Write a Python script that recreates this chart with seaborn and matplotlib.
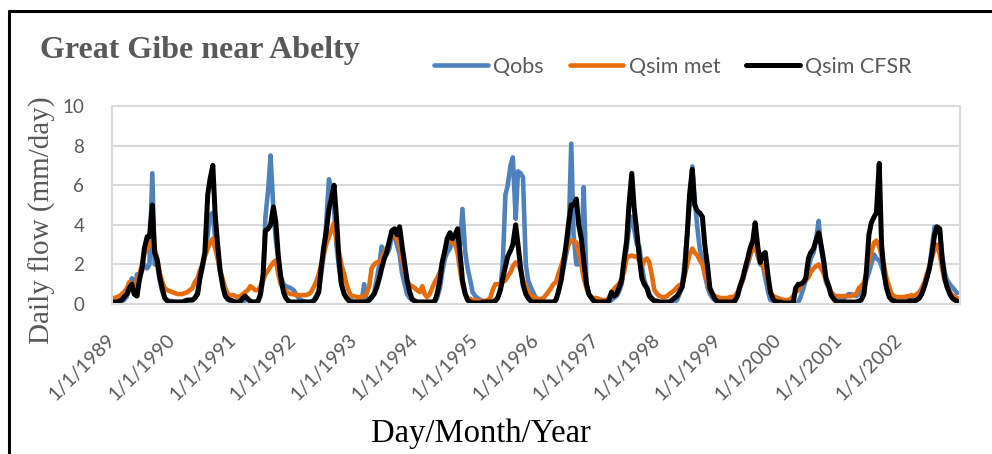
import numpy as np
import pandas as pd
import matplotlib
matplotlib.use("Agg")
import matplotlib.pyplot as plt
import matplotlib.dates as mdates
from matplotlib.lines import Line2D
import seaborn as sns
import datetime as dt

# ---------------- data (semi-monthly samples: 1st and 15th of each month) -------------
years = list(range(1989, 2003))
tick_labels = [f"1/1/{y}" for y in years]
series_names = ["Qobs", "Qsim met", "Qsim CFSR"]

qobs = [
    0.1, 0.1, 0.1, 0.15, 0.15, 0.2, 0.4, 0.7, 1.3, 0.5, 1.5, 1.4, 1.7, 2.0, 1.8, 2.0, 6.6, 2.0, 2.0, 1.2, 0.6, 0.3, 0.2, 0.15,
    0.15, 0.1, 0.1, 0.1, 0.1, 0.1, 0.15, 0.2, 0.2, 0.3, 0.6, 1.3, 1.8, 2.5, 3.5, 4.5, 4.6, 3.3, 2.3, 1.6, 1.0, 0.4, 0.2, 0.15,
    0.15, 0.1, 0.1, 0.1, 0.1, 0.2, 0.2, 0.1, 0.1, 0.1, 0.15, 0.4, 1.2, 4.4, 5.8, 7.5, 4.8, 3.3, 2.2, 1.4, 1.0, 0.9, 0.85, 0.8,
    0.7, 0.5, 0.3, 0.2, 0.15, 0.1, 0.1, 0.1, 0.2, 0.4, 0.7, 1.5, 2.5, 4.0, 6.3, 5.8, 4.8, 3.0, 1.8, 1.0, 0.5, 0.35, 0.25, 0.2,
    0.1, 0.1, 0.1, 0.15, 1.0, 0.2, 0.2, 0.3, 0.6, 1.2, 2.0, 2.9, 2.6, 2.5, 2.8, 3.5, 3.4, 3.0, 2.5, 1.6, 1.0, 0.5, 0.3, 0.2,
    0.15, 0.1, 0.1, 0.1, 0.1, 0.1, 0.1, 0.1, 0.1, 0.3, 0.8, 1.6, 2.3, 2.6, 2.8, 3.2, 3.0, 3.3, 3.0, 4.8, 2.6, 1.8, 1.2, 0.6,
    0.4, 0.3, 0.2, 0.15, 0.1, 0.1, 0.1, 0.15, 0.2, 0.3, 0.8, 2.0, 5.5, 6.0, 7.0, 7.4, 4.3, 6.7, 6.6, 6.4, 2.0, 1.2, 0.85, 0.6,
    0.3, 0.2, 0.15, 0.1, 0.1, 0.1, 0.1, 0.1, 0.2, 0.6, 1.2, 1.8, 2.5, 3.0, 8.1, 3.5, 2.0, 2.0, 2.5, 5.9, 1.0, 0.5, 0.3, 0.2,
    0.15, 0.1, 0.1, 0.1, 0.1, 0.1, 0.2, 0.3, 0.4, 0.6, 1.0, 2.0, 2.8, 3.8, 4.4, 3.8, 3.0, 2.9, 1.9, 1.2, 0.8, 0.5, 0.3, 0.2,
    0.1, 0.1, 0.1, 0.1, 0.1, 0.1, 0.1, 0.1, 0.2, 0.5, 1.0, 2.0, 3.5, 5.0, 6.95, 5.3, 3.8, 2.8, 2.2, 1.5, 0.85, 0.5, 0.3, 0.2,
    0.15, 0.1, 0.1, 0.1, 0.1, 0.1, 0.1, 0.2, 0.5, 0.8, 1.2, 1.6, 2.0, 2.4, 2.9, 3.2, 2.4, 2.0, 1.9, 1.3, 0.6, 0.2, 0.15, 0.1,
    0.1, 0.05, 0.0, 0.0, 0.0, 0.0, 0.0, 0.0, 0.1, 0.35, 0.8, 1.2, 1.8, 2.3, 2.6, 3.2, 4.2, 2.8, 2.0, 1.1, 0.8, 0.45, 0.3, 0.2,
    0.2, 0.2, 0.3, 0.4, 0.5, 0.5, 0.45, 0.4, 0.5, 0.6, 0.9, 1.2, 1.6, 2.0, 2.5, 2.3, 2.2, 1.9, 1.5, 0.9, 0.5, 0.35, 0.3, 0.25,
    0.2, 0.2, 0.2, 0.25, 0.3, 0.3, 0.2, 0.2, 0.3, 0.5, 0.9, 1.3, 1.9, 2.8, 3.9, 3.8, 3.7, 2.5, 1.6, 1.2, 1.0, 0.85, 0.7, 0.55,
]

qsim_met = [
    0.3, 0.3, 0.35, 0.4, 0.5, 0.6, 0.8, 1.1, 1.0, 0.8, 1.2, 1.5, 2.0, 2.5, 2.8, 3.0, 3.2, 2.8, 2.3, 1.6, 1.1, 0.8, 0.7, 0.65,
    0.6, 0.55, 0.5, 0.5, 0.5, 0.55, 0.6, 0.7, 0.8, 1.1, 1.3, 1.7, 2.0, 2.4, 2.8, 3.1, 3.3, 2.8, 2.3, 1.7, 1.2, 0.8, 0.5, 0.45,
    0.45, 0.4, 0.35, 0.4, 0.5, 0.6, 0.7, 0.9, 0.8, 0.7, 0.7, 0.9, 1.2, 1.5, 1.7, 1.9, 2.1, 2.2, 1.5, 1.0, 0.8, 0.65, 0.55, 0.5,
    0.5, 0.45, 0.45, 0.45, 0.45, 0.45, 0.5, 0.6, 0.85, 1.1, 1.5, 2.0, 2.5, 3.0, 3.4, 3.7, 4.1, 3.2, 2.6, 2.0, 1.5, 1.0, 0.6, 0.4,
    0.4, 0.35, 0.35, 0.35, 0.4, 0.5, 0.9, 1.8, 2.0, 2.1, 2.1, 2.3, 2.6, 2.8, 3.1, 3.6, 3.5, 3.3, 3.0, 2.3, 1.6, 1.2, 0.95, 0.9,
    0.8, 0.7, 0.6, 0.9, 0.5, 0.35, 0.5, 0.8, 1.1, 1.3, 1.6, 2.1, 2.6, 3.2, 3.4, 3.1, 3.0, 2.6, 1.7, 1.0, 0.5, 0.3, 0.25, 0.2,
    0.2, 0.15, 0.15, 0.15, 0.15, 0.2, 0.3, 0.7, 1.0, 1.0, 1.0, 1.1, 1.2, 1.4, 1.6, 1.9, 2.1, 2.0, 1.7, 1.2, 0.9, 0.6, 0.45, 0.35,
    0.3, 0.25, 0.25, 0.3, 0.45, 0.6, 0.8, 1.0, 1.1, 1.5, 1.9, 2.3, 2.7, 3.0, 3.2, 3.2, 3.1, 2.6, 2.0, 1.3, 0.8, 0.5, 0.35, 0.3,
    0.3, 0.25, 0.2, 0.2, 0.2, 0.3, 0.6, 0.75, 0.9, 1.0, 1.3, 1.6, 2.3, 2.4, 2.45, 2.4, 2.4, 2.2, 1.9, 2.2, 2.3, 2.1, 1.4, 0.7,
    0.5, 0.4, 0.35, 0.35, 0.4, 0.5, 0.6, 0.7, 0.85, 0.95, 1.0, 1.4, 2.0, 2.5, 2.8, 2.6, 2.45, 2.2, 2.0, 1.5, 1.1, 0.7, 0.5, 0.4,
    0.35, 0.3, 0.3, 0.3, 0.3, 0.35, 0.35, 0.4, 0.6, 0.85, 1.2, 1.7, 2.1, 2.5, 2.8, 2.9, 2.4, 2.1, 1.95, 1.6, 1.2, 0.6, 0.4, 0.35,
    0.3, 0.25, 0.2, 0.2, 0.2, 0.25, 0.4, 0.6, 0.7, 0.9, 1.1, 1.2, 1.35, 1.6, 1.8, 1.9, 2.0, 1.8, 1.55, 1.2, 0.9, 0.6, 0.45, 0.4,
    0.4, 0.4, 0.4, 0.4, 0.4, 0.4, 0.45, 0.5, 0.8, 0.9, 1.1, 1.5, 2.2, 2.6, 3.1, 3.2, 2.9, 2.4, 1.9, 1.3, 0.85, 0.5, 0.4, 0.35,
    0.35, 0.35, 0.35, 0.4, 0.4, 0.45, 0.4, 0.5, 0.6, 0.8, 1.1, 1.5, 1.9, 2.3, 2.8, 3.0, 2.5, 1.8, 1.2, 0.9, 0.6, 0.45, 0.35, 0.3,
]

qsim_cfsr = [
    0.1, 0.1, 0.1, 0.15, 0.2, 0.35, 0.5, 0.8, 1.0, 0.5, 0.4, 1.2, 1.8, 2.8, 3.4, 3.4, 5.0, 2.6, 2.2, 1.4, 0.75, 0.3, 0.15, 0.1,
    0.1, 0.1, 0.1, 0.1, 0.1, 0.15, 0.2, 0.2, 0.2, 0.3, 0.5, 1.3, 2.0, 2.6, 5.5, 6.3, 7.0, 4.5, 2.9, 1.7, 0.85, 0.4, 0.25, 0.2,
    0.15, 0.1, 0.1, 0.15, 0.3, 0.4, 0.25, 0.15, 0.1, 0.1, 0.15, 0.5, 1.5, 3.7, 3.8, 4.0, 4.9, 4.2, 2.4, 1.4, 0.6, 0.3, 0.15, 0.1,
    0.1, 0.1, 0.1, 0.1, 0.1, 0.1, 0.1, 0.1, 0.15, 0.3, 0.6, 1.8, 2.9, 3.6, 4.8, 5.3, 6.0, 4.4, 2.2, 1.0, 0.5, 0.3, 0.15, 0.1,
    0.1, 0.1, 0.1, 0.1, 0.1, 0.1, 0.2, 0.35, 0.5, 0.8, 1.3, 1.8, 2.3, 2.6, 3.2, 3.7, 3.8, 3.5, 3.9, 3.0, 2.0, 1.2, 0.6, 0.25,
    0.15, 0.1, 0.1, 0.1, 0.1, 0.1, 0.1, 0.1, 0.15, 0.5, 1.2, 2.1, 2.7, 3.3, 3.6, 3.3, 3.5, 3.8, 2.5, 1.2, 0.5, 0.2, 0.1, 0.05,
    0.05, 0.05, 0.05, 0.1, 0.1, 0.1, 0.1, 0.1, 0.15, 0.3, 0.7, 1.3, 1.9, 2.4, 2.7, 3.0, 4.0, 3.0, 1.8, 1.0, 0.5, 0.3, 0.15, 0.1,
    0.1, 0.1, 0.1, 0.1, 0.1, 0.1, 0.1, 0.1, 0.2, 0.6, 1.2, 2.0, 3.0, 4.0, 5.0, 5.0, 5.3, 4.0, 3.3, 2.2, 1.0, 0.5, 0.3, 0.15,
    0.1, 0.1, 0.1, 0.1, 0.1, 0.15, 0.6, 0.4, 0.5, 0.8, 1.2, 2.2, 3.2, 5.0, 6.6, 4.9, 3.6, 2.4, 1.3, 1.0, 0.8, 0.4, 0.25, 0.15,
    0.15, 0.1, 0.1, 0.1, 0.1, 0.1, 0.2, 0.3, 0.4, 0.6, 0.85, 1.6, 3.5, 5.5, 6.8, 5.0, 4.7, 4.6, 4.4, 3.0, 1.9, 0.8, 0.5, 0.25,
    0.1, 0.1, 0.1, 0.1, 0.1, 0.1, 0.1, 0.15, 0.4, 0.9, 1.3, 1.8, 2.3, 2.8, 3.2, 4.1, 2.8, 2.1, 2.5, 2.6, 1.4, 0.6, 0.25, 0.12,
    0.1, 0.1, 0.05, 0.05, 0.05, 0.05, 0.1, 0.8, 1.0, 1.0, 1.1, 1.3, 2.3, 2.6, 2.8, 3.2, 3.6, 3.0, 2.2, 1.3, 0.9, 0.45, 0.25, 0.12,
    0.1, 0.1, 0.1, 0.1, 0.1, 0.1, 0.1, 0.1, 0.15, 0.2, 0.5, 1.6, 3.5, 4.1, 4.4, 4.6, 7.1, 3.0, 1.5, 0.8, 0.35, 0.2, 0.15, 0.1,
    0.1, 0.1, 0.1, 0.1, 0.15, 0.15, 0.15, 0.2, 0.3, 0.5, 0.9, 1.3, 1.8, 2.5, 3.5, 3.9, 3.8, 2.3, 1.3, 0.85, 0.5, 0.3, 0.2, 0.15,
]

colors = {"Qobs": "#4F81BD", "Qsim met": "#E46C0A", "Qsim CFSR": "#000000"}
widths = {"Qobs": 3.3, "Qsim met": 3.3, "Qsim CFSR": 3.6}

# ---------------- build table -------------
dates = pd.date_range("1989-01-01", "2002-12-31", freq="SMS")
df = pd.concat([
    pd.DataFrame({"date": dates, "flow": vals, "series": name})
    for name, vals in zip(series_names, [qobs, qsim_met, qsim_cfsr])
], ignore_index=True)

# ---------------- style -------------
sns.set_theme(style="white")
plt.rcParams["font.family"] = ["Lato", "DejaVu Sans"]

W, H = 992, 454
fig = plt.figure(figsize=(W / 100, H / 100), dpi=100)
ax = fig.add_axes([112 / W, 1 - 304 / H, 848 / W, 198 / H])

for name in series_names:
    sns.lineplot(data=df[df["series"] == name], x="date", y="flow",
                 color=colors[name], linewidth=widths[name], ax=ax,
                 legend=False, estimator=None, sort=False)

ax.set_ylim(0, 10)
ax.set_yticks([0, 2, 4, 6, 8, 10])
x0 = mdates.date2num(dt.datetime(1989, 1, 1))
x1 = mdates.date2num(dt.datetime(2003, 1, 1))
ax.set_xlim(x0, x1)
tick_pos = [mdates.date2num(dt.datetime(y, 1, 1)) for y in years + [2003]]
ax.set_xticks(tick_pos)
ax.set_xticklabels(tick_labels + [""])

grid_c = "#D9D9D9"
ax.yaxis.grid(True, color=grid_c, linewidth=1.5)
ax.xaxis.grid(False)
ax.set_axisbelow(True)
for s in ax.spines.values():
    s.set_color(grid_c)
    s.set_linewidth(1.5)

ax.tick_params(axis="y", length=0, pad=20, labelsize=13.5, labelcolor="#595959")
ax.tick_params(axis="x", direction="out", length=5, width=1.2, color=grid_c,
               pad=19, labelsize=14, labelcolor="#595959")
for lab in ax.get_xticklabels():
    lab.set_rotation(45)
    lab.set_ha("right")
    lab.set_va("center")
    lab.set_rotation_mode("anchor")
ax.set_xlabel("")
ax.set_ylabel("")

serif = ["Liberation Serif", "DejaVu Serif"]
fig.text(40 / W, 1 - 58 / H, "Great Gibe near Abelty", family=serif,
         fontweight="bold", fontsize=23, color="#595959", ha="left", va="baseline")
fig.text(42 / W, 1 - 220 / H, "Daily flow (mm/day)", family=serif, fontsize=21,
         color="#595959", rotation=90, ha="center", va="center")
fig.text(481 / W, 1 - 442 / H, "Day/Month/Year", family=serif, fontsize=23.5,
         color="#000000", ha="center", va="baseline")

handles = [Line2D([], [], color=colors[n], linewidth=widths[n], solid_capstyle="round")
           for n in series_names]
fig.legend(handles, series_names, loc="center", bbox_to_anchor=(673 / W, 1 - 67 / H),
           ncol=3, frameon=False, fontsize=15.5, handlelength=2.5, handletextpad=0.25,
           columnspacing=1.2, labelcolor="#595959")

# outer frame (left and top edges visible)
fig.add_artist(Line2D([8.5 / W, 8.5 / W], [0, 1 - 10.5 / H], transform=fig.transFigure,
                      color="black", linewidth=2.2))
fig.add_artist(Line2D([8.5 / W, 1], [1 - 10.5 / H, 1 - 10.5 / H], transform=fig.transFigure,
                      color="black", linewidth=2.2))

fig.savefig("out.png", dpi=100)
